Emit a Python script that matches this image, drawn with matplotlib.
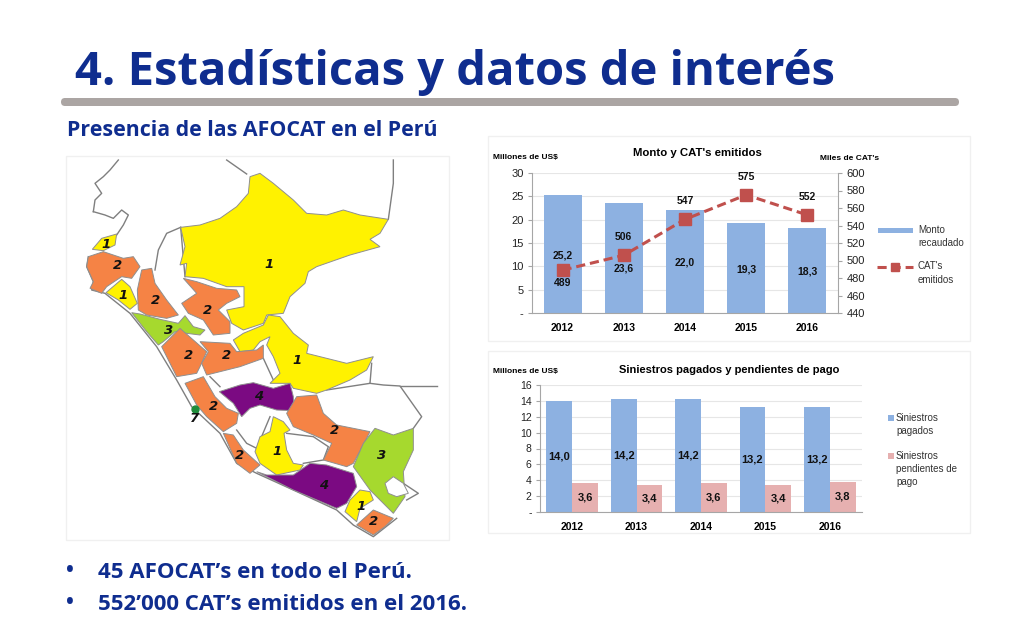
import matplotlib
matplotlib.use('Agg')
import matplotlib.pyplot as plt
from matplotlib.patches import Polygon, Rectangle, FancyBboxPatch

W, H = 1024, 640
plt.rcParams['font.family'] = ['Liberation Sans', 'DejaVu Sans']

# Chart data
years = ['2012', '2013', '2014', '2015', '2016']
monto = [25.2, 23.6, 22.0, 19.3, 18.3]
cats = [489, 506, 547, 575, 552]
pagados = [14.0, 14.2, 14.2, 13.2, 13.2]
pendientes = [3.6, 3.4, 3.6, 3.4, 3.8]

# Where the labels sit in the top chart
monto_label_y = [12.4, 9.6, 10.8, 9.4, 9.0]
cat_offsets = [-13, 18, 18, 18, 18]

# Map regions (3x crop starting at 60,150)
YELLOW = '#FFF200'
ORANGE = '#F58345'
GREEN = '#A6D92E'
PURPLE = '#7B0A82'
regions = [
    (YELLOW, [(362,232),(420,225),(480,205),(530,170),(565,130),(570,80),(600,70),(640,100),(700,150),(740,190),(800,195),(850,180),(900,195),(985,208),(960,250),(930,268),(960,290),(870,315),(770,350),(745,365),(735,400),(690,440),(670,490),(620,495),(610,520),(550,540),(515,520),(500,480),(552,470),(552,410),(500,410),(430,385),(375,380),(380,340),(360,345),(375,290)]),
    (YELLOW, [(625,495),(660,500),(700,550),(745,585),(740,610),(800,625),(860,640),(940,620),(920,660),(870,690),(800,720),(770,730),(700,715),(690,700),(630,700),(660,670),(640,620),(620,585),(630,560),(600,575),(580,600),(540,605),(520,570),(550,550),(610,525)]),
    (YELLOW, [(97,298),(125,265),(170,252),(165,285),(130,302)]),
    (ORANGE, [(85,320),(130,305),(190,325),(220,320),(240,350),(215,385),(185,380),(140,410),(125,430),(90,415),(100,395),(80,350)]),
    (YELLOW, [(138,428),(185,388),(210,410),(232,460),(210,478),(175,450)]),
    (ORANGE, [(245,360),(275,355),(285,400),(320,450),(355,495),(320,505),(260,495),(235,480),(232,420)]),
    (ORANGE, [(370,385),(410,395),(470,415),(530,420),(540,440),(500,460),(475,480),(510,515),(510,550),(460,555),(430,510),(385,490),(365,460),(410,430)]),
    (GREEN, [(215,488),(240,492),(300,508),(355,520),(375,497),(400,530),(435,540),(420,555),(380,550),(345,545),(310,575),(295,585),(260,545)]),
    (ORANGE, [(305,590),(360,535),(400,570),(440,605),(420,650),(410,670),(350,680)]),
    (ORANGE, [(420,575),(510,580),(530,605),(590,600),(610,585),(610,625),(540,650),(480,665),(440,675),(425,640),(445,605)]),
    (ORANGE, [(375,700),(430,680),(465,740),(500,775),(535,790),(530,820),(490,845),(440,800),(410,765)]),
    (PURPLE, [(478,725),(540,705),(580,698),(640,715),(690,700),(700,740),(702,782),(650,780),(600,765),(570,775),(545,800),(520,760)]),
    (ORANGE, [(710,740),(770,735),(790,790),(830,825),(930,845),(880,940),(860,950),(790,930),(815,880),(760,855),(700,830),(680,790)]),
    (GREEN, [(945,835),(1000,855),(1060,835),(1060,900),(1030,965),(1035,1040),(1000,1090),(960,1050),(930,1020),(880,950),(910,880)]),
    ('white', [(975,1000),(1000,980),(1030,1000),(1045,1030),(1010,1040),(985,1030)]),
    (ORANGE, [(490,850),(520,855),(550,900),(600,945),(570,970),(530,940)]),
    (YELLOW, [(640,800),(670,815),(690,840),(672,850),(680,900),(700,940),(730,945),(720,960),(650,975),(600,940),(585,905),(600,860),(630,845)]),
    (PURPLE, [(590,965),(620,975),(700,975),(750,940),(800,945),(880,970),(890,1010),(860,1060),(830,1075),(700,1020)]),
    (YELLOW, [(900,1020),(930,1025),(940,1050),(900,1075),(890,1115),(855,1085),(870,1050)]),
    (ORANGE, [(890,1125),(940,1080),(1000,1105),(975,1130),(940,1155)]),
]
borders = [
    [(100,185),(135,195),(160,205),(185,180),(205,195),(190,225),(170,255)],
    [(100,185),(105,150),(125,130),(105,100),(130,80),(150,60),(175,30)],
    [(500,30),(560,72)],
    [(985,208),(1000,100),(1000,30)],
    [(85,320),(80,350),(100,395),(95,420),(135,430),(210,490),(290,590),(350,690),(395,770),(480,850),(530,940),(590,970),(700,1020),(830,1080),(880,1125),(940,1160),(1010,1105)],
    [(800,720),(930,700),(935,640)],
    [(930,700),(970,705),(1020,708),(1085,800),(1060,835)],
    [(1020,708),(1130,708)],
    [(362,232),(320,250),(295,300),(285,360)],
    [(362,232),(375,380)],
    [(610,625),(640,690)],
    [(450,680),(480,710)],
    [(530,840),(560,880),(590,895),(630,800)],
    [(680,850),(760,860),(805,890),(790,930),(730,940)],
    [(1030,1000),(1075,1030),(1040,1050)],
]
map_labels = [('1',138,284),('2',173,346),('1',190,436),('2',288,450),('2',442,482),('1',627,344),
              ('3',326,542),('2',385,616),('2',500,616),('1',710,632),('4',595,738),('2',462,768),
              ('7',403,805),('2',825,842),('3',965,916),('1',652,904),('2',540,916),('4',790,1006),
              ('1',902,1068),('2',940,1114)]


def zx(x):
    return 60 + x / 3


def zy(y):
    return 150 + y / 3


def px_axes(left, top, right, bottom):
    return fig.add_axes([left / W, 1 - bottom / H, (right - left) / W, (bottom - top) / H])


def comma(v):
    return f'{v:.1f}'.replace('.', ',')


fig = plt.figure(figsize=(W / 100, H / 100), dpi=100, facecolor='white')

# Full-figure layer in pixel coordinates for the slide furniture
bg = fig.add_axes([0, 0, 1, 1])
bg.set_xlim(0, W)
bg.set_ylim(H, 0)
bg.axis('off')

NAVY = '#0F2D8F'
bg.text(75, 72, '4. Estadísticas y datos de interés', fontsize=33.9, fontweight='bold',
        family='Open Sans', color=NAVY, va='center', ha='left')
bg.add_patch(FancyBboxPatch((61, 98), 898, 8, boxstyle='round,pad=0,rounding_size=4', fc='#ABA5A3', ec='none'))
bg.text(67, 131, 'Presencia de las AFOCAT en el Perú', fontsize=15.4, fontweight='bold',
        family='Open Sans', color=NAVY, va='center', ha='left')
bg.text(66, 571, '•', fontsize=15, fontweight='bold', family='Open Sans', color=NAVY, va='center')
bg.text(98, 572, '45 AFOCAT’s en todo el Perú.', fontsize=16, fontweight='bold',
        family='Open Sans', color=NAVY, va='center')
bg.text(66, 604, '•', fontsize=15, fontweight='bold', family='Open Sans', color=NAVY, va='center')
bg.text(98, 605, '552’000 CAT’s emitidos en el 2016.', fontsize=16, fontweight='bold',
        family='Open Sans', color=NAVY, va='center')

# Panel frames
for x0, y0, x1, y1 in [(66, 156, 449, 540), (488, 136, 970, 341), (488, 351, 970, 533)]:
    bg.add_patch(Rectangle((x0, y0), x1 - x0, y1 - y0, fc='white', ec='#F0F0F0', lw=1))

# Map
for colour, pts in regions:
    bg.add_patch(Polygon([(zx(x), zy(y)) for x, y in pts], closed=True, fc=colour, ec='#8F8F8F', lw=0.7, zorder=3))
for line in borders:
    bg.plot([zx(x) for x, y in line], [zy(y) for x, y in line], color='#7F7F7F', lw=1, zorder=2)
bg.plot(zx(405), zy(778), 'o', color='#1E8C3A', ms=5, zorder=4)
for label, x, y in map_labels:
    bg.text(zx(x), zy(y), label, fontsize=9.5, fontweight='bold', style='italic', color='#111111',
            family='DejaVu Sans', ha='center', va='center', zorder=5)

GRID = '#E6E6E6'
AXIS = '#A6A6A6'
BLUE = '#8DB1E1'
PINK = '#E6B0B0'
RED = '#C0504D'

# Top chart
ax1 = px_axes(532, 173, 838, 313)
ax1.set_xlim(-0.5, 4.5)
ax1.set_ylim(0, 30)
bars1 = ax1.bar(years, monto, width=0.62, color=BLUE, zorder=2)
for i, v in enumerate(monto):
    ax1.text(i, monto_label_y[i], comma(v), ha='center', va='center', fontsize=7.5, fontweight='bold',
             color='#111111', zorder=6)
ax1.set_yticks(range(0, 31, 5))
ax1.set_yticklabels(['-', '5', '10', '15', '20', '25', '30'])
ax1.grid(axis='y', color=GRID, lw=0.8, zorder=0)
ax1.set_axisbelow(True)
ax1.tick_params(axis='y', labelsize=8, length=3, color=AXIS, pad=3, labelcolor='#222222')
ax1.tick_params(axis='x', labelsize=7.5, length=0, pad=7)
for lab in ax1.get_xticklabels():
    lab.set_fontweight('bold')
for side in ['top', 'right']:
    ax1.spines[side].set_visible(False)
for side in ['left', 'bottom']:
    ax1.spines[side].set_color(AXIS)

ax1b = ax1.twinx()
ax1b.set_ylim(440, 600)
ax1b.set_yticks(range(440, 601, 20))
ax1b.plot(range(5), cats, color=RED, lw=2.2, ls=(0, (3, 1.6)), marker='s', ms=8)
for i, v in enumerate(cats):
    ax1b.annotate(str(v), (i, v), xytext=(0, cat_offsets[i] * 0.72), textcoords='offset points', ha='center', va='center',
                  fontsize=7.5, fontweight='bold', color='#111111')
ax1b.tick_params(axis='y', labelsize=8, length=3, color=AXIS, pad=3, labelcolor='#222222')
ax1b.spines['top'].set_visible(False)
ax1b.spines['left'].set_visible(False)
ax1b.spines['bottom'].set_visible(False)
ax1b.spines['right'].set_color(AXIS)

bg.text(493, 158, 'Millones de US$', fontsize=6, fontweight='bold', va='center')
bg.text(820, 158, "Miles de CAT's", fontsize=6, fontweight='bold', va='center')
bg.text(697, 153, "Monto y CAT's emitidos", fontsize=8.2, fontweight='bold', ha='center', va='center')

# Legend, top chart
LEG = '#333333'
bg.add_patch(Rectangle((878, 227.5), 35, 5, fc=BLUE, ec='none'))
bg.text(918, 230, 'Monto', fontsize=7, color=LEG, va='center')
bg.text(918, 243, 'recaudado', fontsize=7, color=LEG, va='center')
bg.plot([877, 913], [267, 267], color=RED, lw=2.2, ls=(0, (3, 1.6)))
bg.plot(895, 267, 's', color=RED, ms=5.5)
bg.text(918, 266, "CAT's", fontsize=7, color=LEG, va='center')
bg.text(918, 280, 'emitidos', fontsize=7, color=LEG, va='center')

# Bottom chart
ax2 = px_axes(540, 385, 862, 512)
ax2.set_xlim(-0.5, 4.5)
ax2.set_ylim(0, 16)
xs = list(range(5))
bars2 = ax2.bar([x - 0.2 for x in xs], pagados, width=0.4, color=BLUE, zorder=2)
bars3 = ax2.bar([x + 0.2 for x in xs], pendientes, width=0.4, color=PINK, zorder=2)
ax2.bar_label(bars2, labels=[comma(v) for v in pagados], label_type='center',
              fontsize=8, fontweight='bold', color='#111111')
ax2.bar_label(bars3, labels=[comma(v) for v in pendientes], label_type='center',
              fontsize=8, fontweight='bold', color='#111111')
ax2.set_xticks(xs)
ax2.set_xticklabels(years, fontweight='bold')
ax2.set_yticks(range(0, 17, 2))
ax2.set_yticklabels(['-', '2', '4', '6', '8', '10', '12', '14', '16'])
ax2.grid(axis='y', color=GRID, lw=0.8, zorder=0)
ax2.set_axisbelow(True)
ax2.tick_params(axis='y', labelsize=7.5, length=3, color=AXIS, pad=3, labelcolor='#222222')
ax2.tick_params(axis='x', labelsize=7.5, length=0, pad=7)
for side in ['top', 'right']:
    ax2.spines[side].set_visible(False)
for side in ['left', 'bottom']:
    ax2.spines[side].set_color(AXIS)

bg.text(493, 372, 'Millones de US$', fontsize=6, fontweight='bold', va='center')
bg.text(729, 370, 'Siniestros pagados y pendientes de pago', fontsize=8, fontweight='bold', ha='center', va='center')

# Legend, bottom chart
bg.add_patch(Rectangle((888, 415), 6, 6, fc=BLUE, ec='none'))
bg.text(896, 418, 'Siniestros', fontsize=7, color=LEG, va='center')
bg.text(896, 431, 'pagados', fontsize=7, color=LEG, va='center')
bg.add_patch(Rectangle((888, 453), 6, 6, fc=PINK, ec='none'))
bg.text(896, 456, 'Siniestros', fontsize=7, color=LEG, va='center')
bg.text(896, 469, 'pendientes de', fontsize=7, color=LEG, va='center')
bg.text(896, 482, 'pago', fontsize=7, color=LEG, va='center')

fig.savefig('out.png', dpi=100)
